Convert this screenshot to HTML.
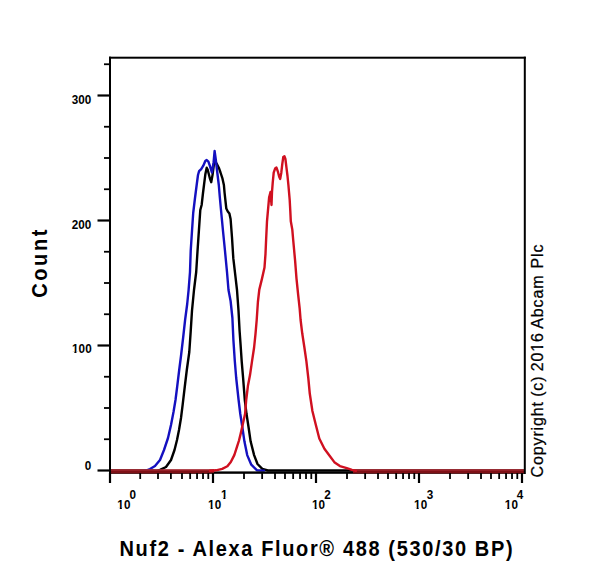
<!DOCTYPE html>
<html><head><meta charset="utf-8"><style>
html,body{margin:0;padding:0;background:#fff;}
svg{display:block;}
text{font-family:"Liberation Sans",Arial,sans-serif;}
</style></head><body>
<svg width="600" height="581" viewBox="0 0 600 581">
<rect width="600" height="581" fill="#fff"/>
<g fill="none" stroke-linejoin="round" stroke-linecap="round">
<polyline points="111,470.5 150,470.5 156,470.8 160,469.8 166,467 171,460 174.5,450 177,440 179,430 181,418 182.7,404.4 184.8,386.5 186.8,370 189.3,352 190.7,331.3 192,310.7 194,290 196.2,272 197.5,251.3 198.9,230.7 200.3,210 201.7,204.7 203,193 204,185 205.3,174.6 206.7,167.7 207.7,169.8 209.8,178 211.2,182.2 212.6,174.6 213.9,164.3 215.3,161.8 217,164.2 218.8,167.7 220.5,172.5 222.5,178.7 223.9,185 224.6,193 226.3,208.5 227.8,211.5 229.4,213.5 230.6,219 232,237.5 233.3,258.2 235.4,276.1 237,290 238.5,310.7 239.6,331 240.6,345 241.7,361.3 243.1,377.8 244.8,400 246.5,413.8 248.6,427.5 250.6,441.3 254.1,455.1 257.5,464 262.3,468.8 267.8,470.5 272,470.5 523,470.5" stroke="#000" stroke-width="2.4"/>
<polyline points="144,470.6 146,470.5 150,469 155,466 160,460 164,450 168,438 171,425 173.5,412 175.5,400 177.2,386.5 179.2,370 181,356 183.1,338 185.1,320 187.2,304 188.6,290 190,272 190.7,251 192,231 193.2,213 195,198 196.8,184 198,175 199.1,171.2 201.2,169.1 203.3,165.7 205.3,161 206.7,160 208.4,161.6 209.8,165.7 211.9,172.5 213.6,162.2 214.6,151 215.7,158.8 216.7,167.7 217.7,176 218.8,185 219.8,197 221,210 223,231 225,251 227,272 228.5,290 230.6,301 232.4,318 233.4,340 234.8,361 236.2,378 238.6,400 240.3,414 242.4,427.5 244.4,441.3 247.2,455.1 251.3,464.7 256.8,470.2 261,470.5 264,470.6" stroke="#1410c0" stroke-width="2.4"/>
</g>
<rect x="110" y="471.4" width="414.8" height="2.4" fill="#000"/>
<rect x="111" y="469.5" width="103" height="4" fill="#7e1016"/>
<rect x="111" y="469.3" width="103" height="1.2" fill="#b0303a"/>
<rect x="353" y="469.5" width="171" height="4" fill="#7e1016"/>
<rect x="353" y="469.3" width="171" height="1.2" fill="#b0303a"/>
<g fill="none" stroke-linejoin="round" stroke-linecap="round">
<polyline points="210,470.8 216,470.3 222.2,468.9 227.4,466.3 230.8,462 234.3,455.1 236.8,447.4 239,440.5 240.7,433.6 242.4,426 245.1,413.8 246.2,400 247.9,386.1 250,375.1 252,361.3 254.1,347.5 255.5,333.8 256.7,320 257.9,302 259.3,289.6 262,278.6 264.5,267.5 265.5,253.8 266.1,240 267,221.3 268.1,208.9 269.1,197.6 270.5,192 271.5,205 272,192 272.7,183 273.7,172.7 275.1,168.6 276.5,167.6 277.8,171.3 279.2,176.8 280.2,178.9 281.3,172.7 282.3,163.8 283.3,156.9 284.4,156.2 285.4,159 286.4,167.2 287.5,176 288.4,185 289.7,200 290.3,211 290.8,221.3 292.3,229.6 293.2,240 295.1,260.7 296.5,278.6 298.2,295.1 299.7,308.8 300.6,320 302.3,333.8 304.4,347.5 306.4,361.3 308.3,378 309.8,393.8 312.4,411 315.8,424.7 319.3,438.5 324.4,448.8 329.6,455.7 334.7,462.6 339.9,466.1 346.8,468.1 352,469.8 356,470.8" stroke="#d01020" stroke-width="2.4"/>
</g>
<rect x="109" y="56.7" width="2" height="417.3" fill="#000"/>
<rect x="109" y="56.7" width="416.8" height="2" fill="#000"/>
<rect x="523.8" y="56.7" width="2" height="417.3" fill="#000"/>
<line x1="97.5" y1="95.5" x2="110" y2="95.5" stroke="#000" stroke-width="2.2"/>
<line x1="97.5" y1="220.5" x2="110" y2="220.5" stroke="#000" stroke-width="2.2"/>
<line x1="97.5" y1="345.5" x2="110" y2="345.5" stroke="#000" stroke-width="2.2"/>
<line x1="97.5" y1="470.5" x2="110" y2="470.5" stroke="#000" stroke-width="2.2"/>
<line x1="104" y1="64.25" x2="110" y2="64.25" stroke="#000" stroke-width="1.8"/>
<line x1="104" y1="126.75" x2="110" y2="126.75" stroke="#000" stroke-width="1.8"/>
<line x1="104" y1="158.00" x2="110" y2="158.00" stroke="#000" stroke-width="1.8"/>
<line x1="104" y1="189.25" x2="110" y2="189.25" stroke="#000" stroke-width="1.8"/>
<line x1="104" y1="251.75" x2="110" y2="251.75" stroke="#000" stroke-width="1.8"/>
<line x1="104" y1="283.00" x2="110" y2="283.00" stroke="#000" stroke-width="1.8"/>
<line x1="104" y1="314.25" x2="110" y2="314.25" stroke="#000" stroke-width="1.8"/>
<line x1="104" y1="376.75" x2="110" y2="376.75" stroke="#000" stroke-width="1.8"/>
<line x1="104" y1="408.00" x2="110" y2="408.00" stroke="#000" stroke-width="1.8"/>
<line x1="104" y1="439.25" x2="110" y2="439.25" stroke="#000" stroke-width="1.8"/>
<line x1="110.00" y1="473" x2="110.00" y2="483" stroke="#000" stroke-width="2.2"/>
<line x1="140.20" y1="473" x2="140.20" y2="479" stroke="#000" stroke-width="1.8"/>
<line x1="158.00" y1="473" x2="158.00" y2="479" stroke="#000" stroke-width="1.8"/>
<line x1="170.90" y1="473" x2="170.90" y2="479" stroke="#000" stroke-width="1.8"/>
<line x1="181.99" y1="473" x2="181.99" y2="479" stroke="#000" stroke-width="1.8"/>
<line x1="190.15" y1="473" x2="190.15" y2="479" stroke="#000" stroke-width="1.8"/>
<line x1="197.05" y1="473" x2="197.05" y2="479" stroke="#000" stroke-width="1.8"/>
<line x1="203.02" y1="473" x2="203.02" y2="479" stroke="#000" stroke-width="1.8"/>
<line x1="208.29" y1="473" x2="208.29" y2="479" stroke="#000" stroke-width="1.8"/>
<line x1="213.00" y1="473" x2="213.00" y2="483" stroke="#000" stroke-width="2.2"/>
<line x1="244.01" y1="473" x2="244.01" y2="479" stroke="#000" stroke-width="1.8"/>
<line x1="262.14" y1="473" x2="262.14" y2="479" stroke="#000" stroke-width="1.8"/>
<line x1="275.01" y1="473" x2="275.01" y2="479" stroke="#000" stroke-width="1.8"/>
<line x1="284.99" y1="473" x2="284.99" y2="479" stroke="#000" stroke-width="1.8"/>
<line x1="293.15" y1="473" x2="293.15" y2="479" stroke="#000" stroke-width="1.8"/>
<line x1="300.05" y1="473" x2="300.05" y2="479" stroke="#000" stroke-width="1.8"/>
<line x1="306.02" y1="473" x2="306.02" y2="479" stroke="#000" stroke-width="1.8"/>
<line x1="311.29" y1="473" x2="311.29" y2="479" stroke="#000" stroke-width="1.8"/>
<line x1="316.00" y1="473" x2="316.00" y2="483" stroke="#000" stroke-width="2.2"/>
<line x1="347.01" y1="473" x2="347.01" y2="479" stroke="#000" stroke-width="1.8"/>
<line x1="365.14" y1="473" x2="365.14" y2="479" stroke="#000" stroke-width="1.8"/>
<line x1="378.01" y1="473" x2="378.01" y2="479" stroke="#000" stroke-width="1.8"/>
<line x1="387.99" y1="473" x2="387.99" y2="479" stroke="#000" stroke-width="1.8"/>
<line x1="396.15" y1="473" x2="396.15" y2="479" stroke="#000" stroke-width="1.8"/>
<line x1="403.05" y1="473" x2="403.05" y2="479" stroke="#000" stroke-width="1.8"/>
<line x1="409.02" y1="473" x2="409.02" y2="479" stroke="#000" stroke-width="1.8"/>
<line x1="414.29" y1="473" x2="414.29" y2="479" stroke="#000" stroke-width="1.8"/>
<line x1="419.00" y1="473" x2="419.00" y2="483" stroke="#000" stroke-width="2.2"/>
<line x1="450.01" y1="473" x2="450.01" y2="479" stroke="#000" stroke-width="1.8"/>
<line x1="468.14" y1="473" x2="468.14" y2="479" stroke="#000" stroke-width="1.8"/>
<line x1="481.01" y1="473" x2="481.01" y2="479" stroke="#000" stroke-width="1.8"/>
<line x1="490.99" y1="473" x2="490.99" y2="479" stroke="#000" stroke-width="1.8"/>
<line x1="499.15" y1="473" x2="499.15" y2="479" stroke="#000" stroke-width="1.8"/>
<line x1="506.05" y1="473" x2="506.05" y2="479" stroke="#000" stroke-width="1.8"/>
<line x1="512.02" y1="473" x2="512.02" y2="479" stroke="#000" stroke-width="1.8"/>
<line x1="517.29" y1="473" x2="517.29" y2="479" stroke="#000" stroke-width="1.8"/>
<line x1="522.00" y1="473" x2="522.00" y2="483" stroke="#000" stroke-width="2.2"/>
<defs>
<clipPath id="c1b" clipPathUnits="userSpaceOnUse"><rect x="-20" y="-40" width="40" height="38.1"/><rect x="2.75" y="-40" width="2.3" height="80"/></clipPath>
<clipPath id="c1r" clipPathUnits="userSpaceOnUse"><rect x="-50" y="-50" width="175.9" height="100"/><rect x="134.9" y="-50" width="300" height="100"/><rect x="-50" y="-50" width="500" height="47.8"/><rect x="129.5" y="-50" width="1.8" height="100"/></clipPath>
</defs>
<g font-weight="bold" font-size="13" fill="#000">
<text transform="translate(91.2,103.5) scale(0.9,1)" text-anchor="end">300</text>
<text transform="translate(91.2,228.5) scale(0.9,1)" text-anchor="end">200</text>
<text transform="translate(91.2,470.4) scale(0.9,1)" text-anchor="end">0</text>
<text transform="translate(71.9,353.4) scale(0.9,1)" clip-path="url(#c1b)">1</text><text transform="translate(78.5,353.4) scale(0.9,1)">0</text><text transform="translate(85.2,353.4) scale(0.9,1)">0</text>
<text transform="translate(117.3,509.1) scale(0.9,1)" clip-path="url(#c1b)">1</text><text transform="translate(123.9,509.1) scale(0.9,1)">0</text><text transform="translate(129.5,499.1) scale(0.9,1)">0</text>
<text transform="translate(208.1,509.1) scale(0.9,1)" clip-path="url(#c1b)">1</text><text transform="translate(214.7,509.1) scale(0.9,1)">0</text><text transform="translate(220.9,499.1) scale(0.9,1)" clip-path="url(#c1b)">1</text>
<text transform="translate(312.1,509.1) scale(0.9,1)" clip-path="url(#c1b)">1</text><text transform="translate(318.5,509.1) scale(0.9,1)">0</text><text transform="translate(324.2,499.1) scale(0.9,1)">2</text>
<text transform="translate(414.1,509.1) scale(0.9,1)" clip-path="url(#c1b)">1</text><text transform="translate(420.7,509.1) scale(0.9,1)">0</text><text transform="translate(426.7,499.1) scale(0.9,1)">3</text>
<text transform="translate(504.8,509.1) scale(0.9,1)" clip-path="url(#c1b)">1</text><text transform="translate(511.4,509.1) scale(0.9,1)">0</text><text transform="translate(516.8,499.1) scale(0.9,1)">4</text>
</g>
<text transform="translate(119.5,555.6) scale(1,1.07)" font-weight="bold" font-size="20" letter-spacing="1.64">Nuf2 - Alexa Fluor® 488 (530/30 BP)</text>
<text transform="translate(46.8,297.8) rotate(-90) scale(1,1.06)" font-weight="bold" font-size="20" letter-spacing="2.62">Count</text>
<text transform="translate(542.9,477.4) rotate(-90)" font-size="16" letter-spacing="0.86" word-spacing="-0.95" stroke="#000" stroke-width="0.25" clip-path="url(#c1r)">Copyright (c) 2016 Abcam <tspan dx="1.8">Plc</tspan></text>
</svg>
</body></html>
